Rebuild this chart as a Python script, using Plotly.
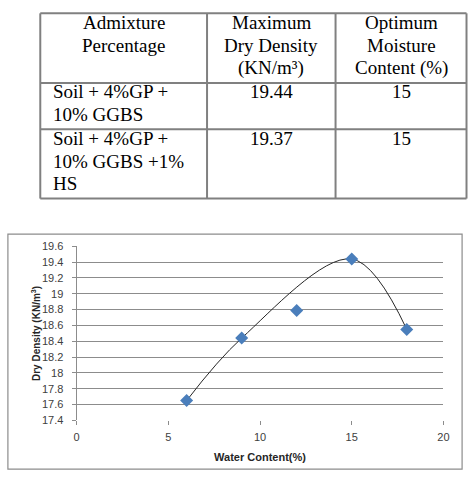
import plotly.graph_objects as go

# ---------------- data ----------------
water_content = [6, 9, 12, 15, 18]
dry_density = [17.65, 18.44, 18.79, 19.44, 18.55]
curve_points = [0, 1, 3, 4]  # points the drawn curve passes through

y_ticks = [17.4, 17.6, 17.8, 18.0, 18.2, 18.4, 18.6, 18.8, 19.0, 19.2, 19.4, 19.6]
y_ticktext = ["17.4", "17.6", "17.8", "18", "18.2", "18.4", "18.6", "18.8", "19", "19.2", "19.4", "19.6"]
x_ticks = [0, 5, 10, 15, 20]

table_header = ["Admixture\nPercentage", "Maximum\nDry Density\n(KN/m³)", "Optimum\nMoisture\nContent (%)"]
mix_names = ["Soil + 4%GP +\n10% GGBS", "Soil + 4%GP +\n10% GGBS +1%\nHS"]
max_dry_density = ["19.44", "19.37"]
opt_moisture = ["15", "15"]

# ---------------- layout helpers ----------------
W, H = 473, 481


def px(x):
    return x / W


def py(y):
    return 1 - y / H


GRID = "#8c8c8c"
TXT = "#404040"

fig = go.Figure()

fig.add_trace(go.Scatter(
    x=[water_content[i] for i in curve_points],
    y=[dry_density[i] for i in curve_points],
    mode="lines",
    line=dict(shape="spline", smoothing=1, color="#262626", width=1),
    hoverinfo="skip",
    showlegend=False,
))
fig.add_trace(go.Scatter(
    x=water_content,
    y=dry_density,
    mode="markers",
    marker=dict(symbol="diamond", size=10, color="#4A7EBB", line=dict(width=0)),
    showlegend=False,
))

fig.update_layout(
    width=W, height=H,
    margin=dict(l=0, r=0, t=0, b=0),
    paper_bgcolor="white",
    plot_bgcolor="white",
    showlegend=False,
    xaxis=dict(
        domain=[px(75), px(449)],
        range=[0, 20],
        tickvals=x_ticks,
        showgrid=False, zeroline=False, showline=False,
        ticks="outside", ticklen=4, tickcolor=GRID, tickwidth=1,
        ticklabelstandoff=2,
        tickfont=dict(family="Liberation Sans", size=11, color=TXT),
        title=dict(text="<b>Water Content(%)</b>", standoff=11,
                   font=dict(family="Liberation Sans", size=11, color="#262626")),
    ),
    yaxis=dict(
        domain=[py(425), py(246.5)],
        range=[17.4, 19.6],
        tickvals=y_ticks, ticktext=y_ticktext,
        showgrid=True, gridcolor=GRID, gridwidth=1,
        zeroline=False,
        showline=True, linecolor=GRID, linewidth=1,
        ticks="outside", ticklen=4, tickcolor=GRID, tickwidth=1,
        ticklabelstandoff=6,
        tickfont=dict(family="Liberation Sans", size=11, color=TXT),
    ),
)

shapes = []
# chart outer frame
shapes.append(dict(type="rect", xref="paper", yref="paper",
                   x0=px(5), x1=px(468), y0=py(475), y1=py(234),
                   line=dict(color="#8c8c8c", width=1.2), layer="below"))

# table grid
col_edges = [38, 208, 339, 472.5]
row_edges = [7.5, 79, 126.5, 197.5]
TLINE = "#808080"
for y in row_edges:
    shapes.append(dict(type="line", xref="paper", yref="paper",
                       x0=px(col_edges[0]), x1=px(col_edges[-1]), y0=py(y), y1=py(y),
                       line=dict(color=TLINE, width=2)))
for x in col_edges:
    shapes.append(dict(type="line", xref="paper", yref="paper",
                       x0=px(x), x1=px(x), y0=py(row_edges[0]), y1=py(row_edges[-1]),
                       line=dict(color=TLINE, width=2)))

annotations = []
# y-axis title
annotations.append(dict(
    x=px(33), y=py(336), xref="paper", yref="paper", textangle=-90,
    text="<b>Dry Density (KN/m<sup>3</sup>)</b>", showarrow=False,
    xanchor="center", yanchor="middle",
    font=dict(family="Liberation Sans", size=10, color="#262626"),
))

LINE_H = 23.5
FIRST = 9
TFONT = dict(family="Liberation Serif", size=19, color="#000000")


def cell_text(text, col, row, align):
    top = row_edges[row]
    for i, line in enumerate(text.split("\n")):
        if align == "center":
            x = (col_edges[col] + col_edges[col + 1]) / 2
            xa = "center"
        else:
            x = col_edges[col] + 11
            xa = "left"
        annotations.append(dict(
            x=px(x), y=py(top + FIRST + i * LINE_H), xref="paper", yref="paper",
            text=line, showarrow=False, xanchor=xa, yanchor="middle", font=TFONT,
        ))


for c, h in enumerate(table_header):
    cell_text(h, c, 0, "center")
for r in range(len(mix_names)):
    cell_text(mix_names[r], 0, r + 1, "left")
    cell_text(max_dry_density[r], 1, r + 1, "center")
    cell_text(opt_moisture[r], 2, r + 1, "center")

fig.update_layout(shapes=shapes, annotations=annotations)

fig.write_html("out.html")
